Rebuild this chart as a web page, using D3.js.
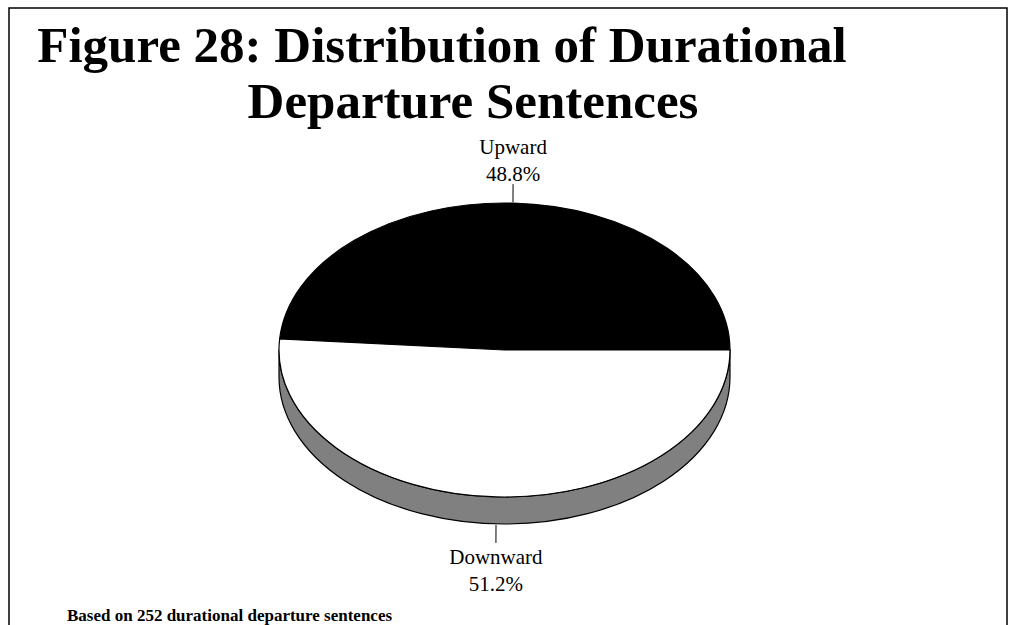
<!DOCTYPE html>
<html><head>
<meta charset="UTF-8">
<title>Figure 28: Distribution of Durational Departure Sentences</title>
<script src="https://cdn.jsdelivr.net/npm/d3@7"></script>
<style>
  body { margin: 0; background: #fff; }
  svg { display: block; font-family: "Liberation Serif", "Times New Roman", serif; }
</style>
</head>
<body>
<div id="chart"></div>
<script>
// data
const categories = ["Upward", "Downward"];
const shares = [48.8, 51.2];
const topColors = ["#000000", "#ffffff"];
const sideColors = ["#404040", "#808080"];
const titleLines = ["Figure 28: Distribution of Durational", "Departure Sentences"];
const footnote = "Based on 252 durational departure sentences";

const W = 1009, H = 625;
const svg = d3.select("#chart").append("svg")
    .attr("width", W).attr("height", H);

// frame
svg.append("rect")
    .attr("x", 9).attr("y", 8)
    .attr("width", 998).attr("height", 640)
    .attr("fill", "none").attr("stroke", "#000").attr("stroke-width", 1.5);

// title (second line sits a bit right of the first)
const titleX = [442, 473];
svg.append("text")
    .attr("text-anchor", "middle")
    .attr("font-weight", "bold")
    .attr("font-size", 51)
  .selectAll("tspan")
  .data(titleLines)
  .enter().append("tspan")
    .attr("x", (d, i) => titleX[i])
    .attr("y", (d, i) => 62 + i * 56)
    .text(d => d);

// pie geometry
const cx = 504.5, cy = 350, rx = 225.5, ry = 147, depth = 27;

// start at 3 o'clock, go counter-clockwise
const pie = d3.pie().sort(null)
    .startAngle(Math.PI / 2)
    .endAngle(Math.PI / 2 - 2 * Math.PI);
const arcs = pie(shares);

const pt = (a, dy = 0) => [cx + rx * Math.sin(a), cy - ry * Math.cos(a) + dy];

// sides: only the front half (angles pi/2 .. 3pi/2) is visible
const sides = svg.append("g");
arcs.forEach((d, i) => {
  let lo = Math.min(d.startAngle, d.endAngle), hi = Math.max(d.startAngle, d.endAngle);
  [-2, 0, 2].forEach(k => {
    const a0 = Math.max(lo + k * Math.PI, Math.PI / 2);
    const a1 = Math.min(hi + k * Math.PI, 3 * Math.PI / 2);
    if (a1 - a0 <= 1e-6) return;
    const p0 = pt(a0), p1 = pt(a1), q1 = pt(a1, depth), q0 = pt(a0, depth);
    const large = (a1 - a0) > Math.PI ? 1 : 0;
    const path = `M${p0[0]},${p0[1]} A${rx},${ry} 0 ${large} 1 ${p1[0]},${p1[1]}` +
      ` L${q1[0]},${q1[1]} A${rx},${ry} 0 ${large} 0 ${q0[0]},${q0[1]} Z`;
    sides.append("path")
        .attr("d", path)
        .attr("fill", sideColors[i])
        .attr("stroke", "#000").attr("stroke-width", 1.2)
        .attr("stroke-linejoin", "round");
  });
});

// top face
const arc = d3.arc().innerRadius(0).outerRadius(rx);
svg.append("g")
    .attr("transform", `translate(${cx},${cy}) scale(1,${ry / rx})`)
  .selectAll("path")
  .data(arcs)
  .enter().append("path")
    .attr("d", arc)
    .attr("fill", (d, i) => topColors[i])
    .attr("stroke", "#000")
    .attr("stroke-width", 1.2)
    .attr("vector-effect", "non-scaling-stroke");

// labels with leader lines
const labels = svg.append("g").attr("font-size", 21).attr("text-anchor", "middle");
arcs.forEach((d, i) => {
  const mid = (d.startAngle + d.endAngle) / 2;
  const front = Math.cos(mid) < 0;
  const base = pt(mid, front ? depth : 0);
  const dir = front ? 1 : -1;
  labels.append("line")
      .attr("x1", base[0]).attr("y1", base[1] + dir * 1)
      .attr("x2", base[0] + Math.sin(mid) * 2).attr("y2", base[1] + dir * 19)
      .attr("stroke", "#000").attr("stroke-width", 1);
  const tx = base[0] + Math.sin(mid) * 2;
  const t = labels.append("text");
  const y0 = front ? base[1] + 40 : base[1] - 49;
  t.append("tspan").attr("x", tx).attr("y", y0).text(categories[i]);
  t.append("tspan").attr("x", tx).attr("y", y0 + 27).text(d3.format(".1f")(d.data) + "%");
});

// footnote
svg.append("text")
    .attr("x", 67).attr("y", 621)
    .attr("font-size", 17).attr("font-weight", "bold")
    .text(footnote);
</script>
</body></html>
